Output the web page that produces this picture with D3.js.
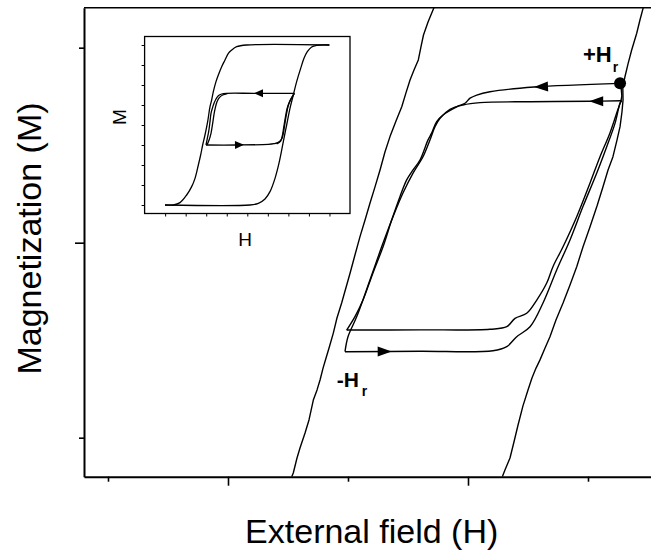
<!DOCTYPE html>
<html>
<head>
<meta charset="utf-8">
<script src="https://cdn.jsdelivr.net/npm/d3@7/dist/d3.min.js"></script>
<style>
  html, body { margin: 0; padding: 0; background: #fff; }
  svg { display: block; }
  text { font-family: "Liberation Sans", Arial, Helvetica, sans-serif; fill: #000; }
</style>
</head>
<body>
<svg id="chart" width="651" height="550"></svg>
<script>
// ---- Main panel: field H vs magnetization M (arbitrary units) ----
// Outer (major) loop branches, drawn through the visible window
const majorDown = [
  [-0.469,-1.200],[-0.456,-1.181],[-0.425,-1.104],[-0.400,-1.053],[-0.358,-0.976],
  [-0.325,-0.909],[-0.289,-0.807],[-0.258,-0.755],[-0.233,-0.704],[-0.208,-0.643],
  [-0.183,-0.591],[-0.158,-0.540],[-0.123,-0.465],[-0.092,-0.386],[-0.053,-0.309],
  [0.017,-0.157],[0.058,-0.063],[0.100,0.031],[0.142,0.116],[0.183,0.202],
  [0.225,0.286],[0.267,0.373],[0.308,0.465],[0.350,0.544],[0.400,0.624],
  [0.448,0.697],[0.483,0.768],[0.517,0.834],[0.550,0.886],[0.586,0.937],
  [0.608,1.004],[0.629,1.065],[0.667,1.132],[0.716,1.205]
];
const majorUp = [
  [1.286,-1.200],[1.308,-1.166],[1.350,-1.104],[1.383,-1.022],[1.417,-0.935],
  [1.458,-0.837],[1.500,-0.755],[1.533,-0.694],[1.567,-0.643],[1.600,-0.601],
  [1.642,-0.540],[1.683,-0.482],[1.733,-0.396],[1.792,-0.309],[1.850,-0.217],
  [1.906,-0.123],[1.958,-0.022],[2.017,0.082],[2.075,0.188],[2.125,0.287],
  [2.167,0.373],[2.208,0.441],[2.242,0.527],[2.267,0.595],[2.283,0.670],
  [2.292,0.732],[2.290,0.800],[2.308,0.851],[2.333,0.916],[2.364,0.988],
  [2.406,1.074],[2.433,1.142],[2.461,1.207]
];
// Recoil (minor) loops between -Hr and +Hr
const minorLoop1 = [
  [2.267,0.817],[1.550,0.798],[1.183,0.774],[1.073,0.757],[1.017,0.741],
  [0.975,0.715],[0.906,0.697],[0.792,0.655],[0.739,0.621],[0.698,0.563],
  [0.667,0.527],[0.600,0.424],[0.542,0.373],[0.489,0.322],[0.433,0.236],
  [0.364,0.116],[0.292,-0.021],[0.208,-0.155],[0.125,-0.294],[0.058,-0.379],
  [-0.011,-0.448],[0.600,-0.447],[1.183,-0.444],[1.323,-0.431],[1.392,-0.388],
  [1.489,-0.362],[1.573,-0.294],[1.656,-0.207],[1.708,-0.123],[1.792,-0.021],
  [1.906,0.133],[2.017,0.306],[2.100,0.441],[2.183,0.563],[2.239,0.665],
  [2.281,0.749],[2.267,0.817]
];
const minorLoop2 = [
  [2.281,0.728],[2.017,0.725],[1.517,0.723],[1.100,0.718],[0.958,0.706],
  [0.850,0.684],[0.767,0.638],[0.725,0.595],[0.683,0.527],[0.625,0.441],
  [0.542,0.357],[0.458,0.255],[0.375,0.133],[0.292,-0.002],[0.183,-0.191],
  [0.073,-0.379],[0.000,-0.482],[-0.025,-0.559],[0.600,-0.557],[1.208,-0.554],
  [1.323,-0.533],[1.406,-0.482],[1.517,-0.431],[1.625,-0.309],[1.739,-0.140],
  [1.850,0.014],[1.958,0.185],[2.073,0.357],[2.156,0.492],[2.225,0.612],
  [2.267,0.715],[2.281,0.728]
];
// Direction arrows: tip position and sweep direction (+1 = increasing H)
const mainArrows = [
  { h: 1.55, m: 0.798, dir: -1, series: "minorLoop1" },
  { h: 2.01, m: 0.725, dir: -1, series: "minorLoop2" },
  { h: 0.364, m: -0.557, dir: 1, series: "minorLoop2" }
];
const reversalPoint = [2.267, 0.817];   // +Hr marker
const xMajorTicks = [-1, 1];
const xMinorTicks = [-2, 0, 2];
const yMajorTicks = [0];
const yMinorTicks = [-1, 1];

// ---- Inset: full hysteresis loop with one minor loop ----
const insetMajorDown = [
  [3.994,4.000],[-0.031,4.000],[-0.518,3.917],[-0.761,3.750],[-0.923,3.583],
  [-1.086,3.250],[-1.248,2.917],[-1.410,2.500],[-1.524,2.167],[-1.654,1.667],
  [-1.735,1.250],[-1.816,0.917],[-1.930,0.167],[-2.060,-0.500],[-2.173,-1.000],
  [-2.271,-1.500],[-2.384,-2.000],[-2.546,-2.667],[-2.709,-3.083],[-2.952,-3.500],
  [-3.277,-3.883],[-3.601,-4.000],[-4.007,-4.000]
];
const insetMajorUp = [
  [-4.007,-4.000],[0.131,-4.000],[0.537,-3.917],[0.862,-3.700],[1.105,-3.333],
  [1.349,-2.667],[1.560,-1.833],[1.754,-0.833],[1.916,0.000],[2.078,0.833],
  [2.240,1.500],[2.403,2.167],[2.598,2.833],[2.760,3.333],[2.922,3.667],
  [3.133,3.900],[3.377,3.983],[3.994,4.000]
];
const insetLoopA = [
  [2.290,1.583],[0.326,1.583],[-1.005,1.583],[-1.248,1.550],[-1.410,1.467],
  [-1.524,1.300],[-1.621,1.083],[-1.702,0.833],[-1.767,0.583],[-1.816,0.167],
  [-1.881,-0.333],[-1.946,-0.667],[-2.011,-1.000],[-0.518,-1.000],[1.023,-0.967],
  [1.299,-0.933],[1.511,-0.867],[1.673,-0.700],[1.754,-0.417],[1.819,0.000],
  [1.900,0.500],[1.981,0.917],[2.078,1.200],[2.192,1.417],[2.290,1.583]
];
const insetLoopBLeft = [
  [-0.972,1.567],[-1.199,1.500],[-1.362,1.367],[-1.475,1.167],[-1.556,0.867],
  [-1.621,0.533],[-1.686,0.083],[-1.767,-0.417],[-1.865,-0.767],[-1.962,-1.000]
];
const insetLoopBRight = [
  [1.430,-0.950],[1.624,-0.800],[1.706,-0.533],[1.771,-0.133],[1.852,0.367],
  [1.933,0.800],[2.030,1.100],[2.144,1.333],[2.290,1.583]
];
const insetArrows = [
  { h: 0.326, m: 1.583, dir: -1, series: "insetLoopA" },
  { h: -0.161, m: -1.0, dir: 1, series: "insetLoopA" }
];
const insetTicks = [-4, -3, -2, -1, 0, 1, 2, 3, 4];

// ---- Drawing ----
const svg = d3.select("#chart");
const seriesByName = { minorLoop1, minorLoop2, insetLoopA };

// split a loop at its most negative field point so the -Hr corner stays sharp
function splitAtCorner(s) {
  const k = d3.minIndex(s, d => d[0]);
  return [s.slice(0, k + 1), s.slice(k)];
}

const x = d3.scaleLinear().domain([-2.2, 2.525]).range([84, 651]);
const y = d3.scaleLinear().domain([-1.2, 1.205]).range([476.7, 7.7]);

svg.append("defs").append("clipPath").attr("id", "plotClip")
  .append("rect").attr("x", 84).attr("y", 7.7).attr("width", 567).attr("height", 469);

const mainLine = d3.line().x(d => x(d[0])).y(d => y(d[1]));
const loopLine = d3.line().x(d => x(d[0])).y(d => y(d[1])).curve(d3.curveCatmullRom.alpha(0.5));
const curves = svg.append("g").attr("clip-path", "url(#plotClip)")
  .attr("fill", "none").attr("stroke", "#000").attr("stroke-width", 1.4)
  .attr("stroke-linejoin", "round");
[majorDown, majorUp].forEach(s => curves.append("path").attr("d", mainLine(s)));
[minorLoop1, minorLoop2].forEach(s =>
  splitAtCorner(s).forEach(part => curves.append("path").attr("d", loopLine(part))));

// filled arrowhead along the nearest segment of a series
function drawArrow(g, pts, sx, sy, a, len, half) {
  const tx = sx(a.h), ty = sy(a.m);
  let best = null;
  for (let i = 0; i < pts.length - 1; i++) {
    const x1 = sx(pts[i][0]), y1 = sy(pts[i][1]);
    const x2 = sx(pts[i + 1][0]), y2 = sy(pts[i + 1][1]);
    const dx = x2 - x1, dy = y2 - y1, L2 = dx * dx + dy * dy || 1;
    let t = ((tx - x1) * dx + (ty - y1) * dy) / L2;
    t = Math.max(0, Math.min(1, t));
    const px = x1 + t * dx, py = y1 + t * dy;
    const dist = Math.hypot(px - tx, py - ty);
    if (!best || dist < best.dist) best = { dist, px, py, dx, dy };
  }
  let ang = Math.atan2(best.dy, best.dx);
  if (Math.cos(ang) * a.dir < 0) ang += Math.PI;
  const c = Math.cos(ang), s = Math.sin(ang);
  const bx = best.px - len * c, by = best.py - len * s;
  g.append("path")
    .attr("d", `M${best.px},${best.py}L${bx - half * s},${by + half * c}L${bx + half * s},${by - half * c}Z`)
    .attr("fill", "#000");
}
mainArrows.forEach(a => drawArrow(svg, seriesByName[a.series], x, y, a, 14, 5));

svg.append("circle").attr("cx", x(reversalPoint[0])).attr("cy", y(reversalPoint[1]))
  .attr("r", 6).attr("fill", "#000");

// frame and axes
svg.append("line").attr("x1", 84).attr("x2", 651).attr("y1", 7.7).attr("y2", 7.7)
  .attr("stroke", "#000").attr("stroke-width", 1.6);

function styleAxis(g, keepDomain) {
  g.selectAll("text").remove();
  g.selectAll("line").attr("stroke", "#000").attr("stroke-width", 1.6);
  if (keepDomain) g.select(".domain").attr("stroke", "#000").attr("stroke-width", 2);
  else g.select(".domain").remove();
}
const xAxisG = svg.append("g").attr("transform", "translate(0,476.7)");
xAxisG.append("g").call(d3.axisBottom(x).tickValues(xMinorTicks).tickSize(5).tickSizeOuter(0))
  .call(g => styleAxis(g, false));
xAxisG.append("g").call(d3.axisBottom(x).tickValues(xMajorTicks).tickSize(9).tickSizeOuter(0))
  .call(g => styleAxis(g, true));

const yAxisG = svg.append("g").attr("transform", "translate(84,0)");
yAxisG.append("g").call(d3.axisLeft(y).tickValues(yMinorTicks).tickSize(5).tickSizeOuter(0))
  .call(g => styleAxis(g, false));
yAxisG.append("g").call(d3.axisLeft(y).tickValues(yMajorTicks).tickSize(9).tickSizeOuter(0))
  .call(g => styleAxis(g, true));

svg.append("text").attr("x", 371.7).attr("y", 543).attr("text-anchor", "middle")
  .attr("font-size", 34).text("External field (H)");
svg.append("text").attr("transform", "translate(41,238.5) rotate(-90)")
  .attr("text-anchor", "middle").attr("font-size", 34).text("Magnetization (M)");

// reversal field labels
const plusLabel = svg.append("text").attr("x", 583).attr("y", 61.7)
  .attr("font-weight", "bold").attr("font-size", 22);
plusLabel.append("tspan").text("+H");
plusLabel.append("tspan").attr("dx", 1).attr("dy", 10).attr("font-size", 14).text("r");

const minusLabel = svg.append("text").attr("x", 336.7).attr("y", 386.7)
  .attr("font-weight", "bold").attr("font-size", 21);
minusLabel.append("tspan").text("-H");
minusLabel.append("tspan").attr("dx", 3).attr("dy", 9.5).attr("font-size", 14).text("r");

// ---- Inset panel ----
const ix = d3.scaleLinear().domain([-5, 5]).range([144.6, 350]);
const iy = d3.scaleLinear().domain([-4.425, 4.425]).range([213.5, 36.5]);
const inset = svg.append("g");
inset.append("rect").attr("x", 144.6).attr("y", 36.5).attr("width", 205.4).attr("height", 177)
  .attr("fill", "#fff").attr("stroke", "#000").attr("stroke-width", 1.3);

inset.append("g").attr("transform", "translate(0,213.5)")
  .call(d3.axisBottom(ix).tickValues(insetTicks).tickSize(3).tickSizeOuter(0))
  .call(g => { g.selectAll("text").remove(); g.select(".domain").remove();
               g.selectAll("line").attr("stroke", "#000").attr("stroke-width", 1); });
inset.append("g").attr("transform", "translate(144.6,0)")
  .call(d3.axisLeft(iy).tickValues(insetTicks).tickSize(3).tickSizeOuter(0))
  .call(g => { g.selectAll("text").remove(); g.select(".domain").remove();
               g.selectAll("line").attr("stroke", "#000").attr("stroke-width", 1); });

const insetLine = d3.line().x(d => ix(d[0])).y(d => iy(d[1])).curve(d3.curveCatmullRom.alpha(0.5));
const insetCurves = inset.append("g").attr("fill", "none").attr("stroke", "#000")
  .attr("stroke-width", 1.3).attr("stroke-linejoin", "round");
[insetMajorDown, insetMajorUp, insetLoopBLeft, insetLoopBRight].forEach(s =>
  insetCurves.append("path").attr("d", insetLine(s)));
splitAtCorner(insetLoopA).forEach(part =>
  insetCurves.append("path").attr("d", insetLine(part)));
insetArrows.forEach(a => drawArrow(inset, seriesByName[a.series], ix, iy, a, 9, 4));

inset.append("text").attr("x", 245).attr("y", 245.7).attr("text-anchor", "middle")
  .attr("font-size", 19).text("H");
inset.append("text").attr("transform", "translate(126,117) rotate(-90)")
  .attr("text-anchor", "middle").attr("font-size", 19).text("M");
</script>
</body>
</html>
